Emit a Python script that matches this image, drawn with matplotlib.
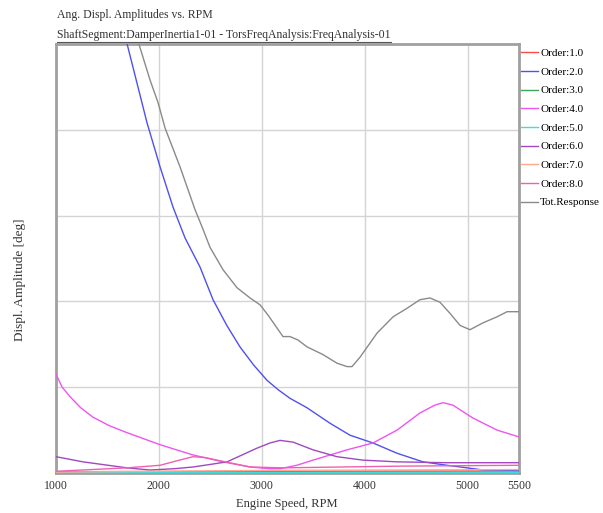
"""
Torsional response: angular displacement amplitudes vs engine speed.
Saves: out.png
"""
import matplotlib
matplotlib.use("Agg")
import matplotlib.pyplot as plt
from matplotlib.lines import Line2D

plt.rcParams["font.family"] = ["Liberation Serif", "DejaVu Serif"]

# ── Data (amplitude in grid units) ────────────────────────────────────────────
tot_rpm = [1780, 1914, 1991, 2060, 2205, 2351, 2429, 2497, 2623, 2759, 2886,
           2983, 3061, 3148, 3206, 3274, 3352, 3440, 3595, 3731, 3829, 3877,
           3955, 4120, 4276, 4412, 4538, 4635, 4732, 4830, 4927, 5024, 5150,
           5286, 5384, 5500]
tot_amp = [5.10, 4.58, 4.32, 4.02, 3.57, 3.07, 2.84, 2.63, 2.37, 2.16, 2.04,
           1.96, 1.84, 1.69, 1.59, 1.59, 1.55, 1.47, 1.38, 1.28, 1.24, 1.24,
           1.35, 1.63, 1.82, 1.92, 2.02, 2.04, 1.99, 1.86, 1.72, 1.67, 1.75,
           1.82, 1.88, 1.88]

o2_rpm = [1670, 1748, 1885, 2011, 2137, 2254, 2400, 2526, 2660, 2788, 2920,
          3051, 3160, 3275, 3440, 3663, 3858, 4081, 4315, 4567, 4800, 4995,
          5150, 5500]
o2_amp = [5.10, 4.73, 4.08, 3.57, 3.10, 2.74, 2.40, 2.02, 1.72, 1.47, 1.26,
          1.08, 0.97, 0.87, 0.76, 0.58, 0.44, 0.35, 0.23, 0.13, 0.09, 0.06,
          0.035, 0.03]

o4_rpm = [1000, 1060, 1136, 1240, 1360, 1520, 1690, 2011, 2332, 2623, 2886,
          3080, 3180, 3340, 3498, 3829, 4081, 4315, 4538, 4680, 4762, 4859,
          5053, 5287, 5500]
o4_amp = [1.15, 1.00, 0.89, 0.76, 0.65, 0.55, 0.47, 0.33, 0.21, 0.13, 0.07,
          0.05, 0.05, 0.09, 0.15, 0.27, 0.35, 0.50, 0.70, 0.79, 0.82, 0.79,
          0.64, 0.50, 0.42]

o6_rpm = [1000, 1262, 1690, 1914, 2150, 2332, 2500, 2662, 2954, 3080, 3177,
          3304, 3498, 3731, 3984, 4315, 4800, 5500]
o6_amp = [0.19, 0.13, 0.06, 0.035, 0.05, 0.07, 0.10, 0.13, 0.29, 0.35, 0.38,
          0.36, 0.27, 0.19, 0.15, 0.13, 0.12, 0.12]

o8_rpm = [1000, 1690, 2011, 2200, 2332, 2450, 2565, 2886, 3207, 4344, 5500]
o8_amp = [0.02, 0.06, 0.09, 0.15, 0.19, 0.18, 0.15, 0.07, 0.06, 0.08, 0.09]

o1_rpm = [1000, 3000, 5500]
o1_amp = [0.015, 0.02, 0.025]
o3_rpm = [1000, 3000, 4000, 5500]
o3_amp = [0.005, 0.008, 0.01, 0.01]
o5_rpm = [1000, 5500]
o5_amp = [0.004, 0.006]
o7_rpm = [1000, 3000, 5500]
o7_amp = [0.01, 0.03, 0.04]

x_ticks = [1000, 2000, 3000, 4000, 5000, 5500]
x_grid = [1000, 2000, 3000, 4000, 5000]
y_grid = [0, 1, 2, 3, 4, 5]

series = [
    ("Order:1.0", o1_rpm, o1_amp, "#ff4a4a"),
    ("Order:2.0", o2_rpm, o2_amp, "#5050f0"),
    ("Order:3.0", o3_rpm, o3_amp, "#3aa85a"),
    ("Order:4.0", o4_rpm, o4_amp, "#ee55ee"),
    ("Order:5.0", o5_rpm, o5_amp, "#40dcdc"),
    ("Order:6.0", o6_rpm, o6_amp, "#a048c0"),
    ("Order:7.0", o7_rpm, o7_amp, "#ffa890"),
    ("Order:8.0", o8_rpm, o8_amp, "#f060b0"),
    ("Tot.Response", tot_rpm, tot_amp, "#8a8a8a"),
]

# ── Plot ──────────────────────────────────────────────────────────────────────
fig = plt.figure(figsize=(6.03, 5.13), dpi=100)
ax = fig.add_axes([56/603, 1 - 473/513, (519 - 56)/603, (473 - 44)/513])

handles = []
for label, xs, ys, col in series:
    ln, = ax.plot(xs, ys, color=col, linewidth=1.0, label=label, zorder=3,
                  solid_joinstyle="round")
    handles.append(ln)

ax.set_xlim(1000, 5500)
ax.set_ylim(0, 5)
ax.set_xticks(x_ticks)
ax.set_xticklabels([str(t) for t in x_ticks], fontsize=8.5, color="#333333")
ax.set_yticks(y_grid)
ax.set_yticklabels([])
ax.tick_params(length=0, pad=5)
for g in x_grid[1:]:
    ax.axvline(g, color="#d4d4d4", linewidth=1.0, zorder=1)
for g in y_grid[1:-1]:
    ax.axhline(g, color="#d4d4d4", linewidth=1.0, zorder=1)
for s in ax.spines.values():
    s.set_color("#a0a0a0")
    s.set_linewidth(2.0)

fig.text(287/603, 1 - 504/513, "Engine Speed, RPM", ha="center", va="center",
         fontsize=9, color="#333333")
fig.text(20/603, 1 - 280/513, "Displ. Amplitude [deg]", rotation=90,
         ha="center", va="center", fontsize=9.5, color="#333333")

fig.text(57/603, 1 - 15/513, "Ang. Displ. Amplitudes vs. RPM",
         ha="left", va="center", fontsize=8.5, color="#333333")
sub = fig.text(57/603, 1 - 35/513,
               "ShaftSegment:DamperInertia1-01 - TorsFreqAnalysis:FreqAnalysis-01",
               ha="left", va="center", fontsize=8.5, color="#333333")

ax.legend(handles=handles, loc="upper left", bbox_to_anchor=(1.005, 0.99),
          frameon=False, fontsize=8, handlelength=1.5, handletextpad=0.2,
          labelspacing=0.8, borderpad=0, borderaxespad=0)

# underline the sub-title like the original
fig.canvas.draw()
bb = sub.get_window_extent().transformed(fig.transFigure.inverted())
fig.add_artist(Line2D([bb.x0, bb.x1], [bb.y0 - 0.002, bb.y0 - 0.002],
                      transform=fig.transFigure, color="#555555", linewidth=0.8))

plt.savefig("out.png", dpi=100)
plt.close()
